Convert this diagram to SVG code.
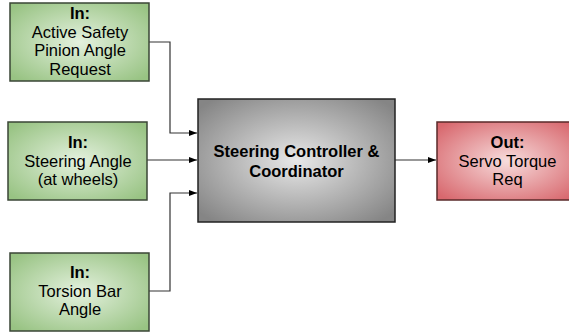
<svg xmlns="http://www.w3.org/2000/svg" width="569" height="333" viewBox="0 0 569 333">
<style>
text{font-family:"Liberation Sans",Arial,sans-serif;font-size:16.5px;fill:#000;text-anchor:middle}
.b{font-weight:bold}
.c{font-size:16.5px;font-weight:bold}
.in{fill:url(#gG);stroke:#3a4636;stroke-width:1.5}
.core{fill:url(#gK);stroke:#222;stroke-width:1.5}
.out{fill:url(#gR);stroke:#5a2a2a;stroke-width:1.5}
.ln{fill:none;stroke:#333;stroke-width:1.2}
</style>
<defs>
<radialGradient id="gG" cx="0.5" cy="0.5" r="0.65">
<stop offset="0" stop-color="#e4f1de"/>
<stop offset="1" stop-color="#98c383"/>
</radialGradient>
<radialGradient id="gK" cx="0.5" cy="0.5" r="0.65">
<stop offset="0" stop-color="#e8e8e8"/>
<stop offset="1" stop-color="#858585"/>
</radialGradient>
<radialGradient id="gR" cx="0.5" cy="0.5" r="0.65">
<stop offset="0" stop-color="#f7dcdc"/>
<stop offset="1" stop-color="#d8686e"/>
</radialGradient>
<marker id="arr" viewBox="0 0 8 6" refX="8" refY="3" markerWidth="8" markerHeight="6" markerUnits="userSpaceOnUse" orient="auto">
<path d="M0,0 L8,3 L0,6 z" fill="#000"/>
</marker>
</defs>
<g id="connectors">
<polyline class="ln" points="149,42 170,42 170,133 197,133" marker-end="url(#arr)"/>
<line class="ln" x1="147" y1="160" x2="197" y2="160" marker-end="url(#arr)"/>
<polyline class="ln" points="149,291 170,291 170,193 197,193" marker-end="url(#arr)"/>
<line class="ln" x1="395" y1="160" x2="436" y2="160" marker-end="url(#arr)"/>
</g>
<g id="in1">
<rect class="in" x="10" y="3" width="139" height="78"/>
<text class="b" x="80" y="19">In:</text>
<text x="80" y="37.5">Active Safety</text>
<text x="80" y="56">Pinion Angle</text>
<text x="80" y="75">Request</text>
</g>
<g id="in2">
<rect class="in" x="8" y="122" width="139" height="78"/>
<text class="b" x="78" y="147.5">In:</text>
<text x="78" y="166.5">Steering Angle</text>
<text x="78" y="185">(at wheels)</text>
</g>
<g id="in3">
<rect class="in" x="10" y="253" width="139" height="78"/>
<text class="b" x="80" y="278">In:</text>
<text x="80" y="297">Torsion Bar</text>
<text x="80" y="315">Angle</text>
</g>
<g id="core">
<rect class="core" x="198" y="99" width="197" height="123"/>
<text class="c" x="296.5" y="157">Steering Controller &amp;</text>
<text class="c" x="296.5" y="176.5">Coordinator</text>
</g>
<g id="out">
<rect class="out" x="437" y="122" width="140" height="78"/>
<text class="b" x="507.5" y="147.5">Out:</text>
<text x="507.5" y="166.5">Servo Torque</text>
<text x="507.5" y="185">Req</text>
</g>
</svg>
